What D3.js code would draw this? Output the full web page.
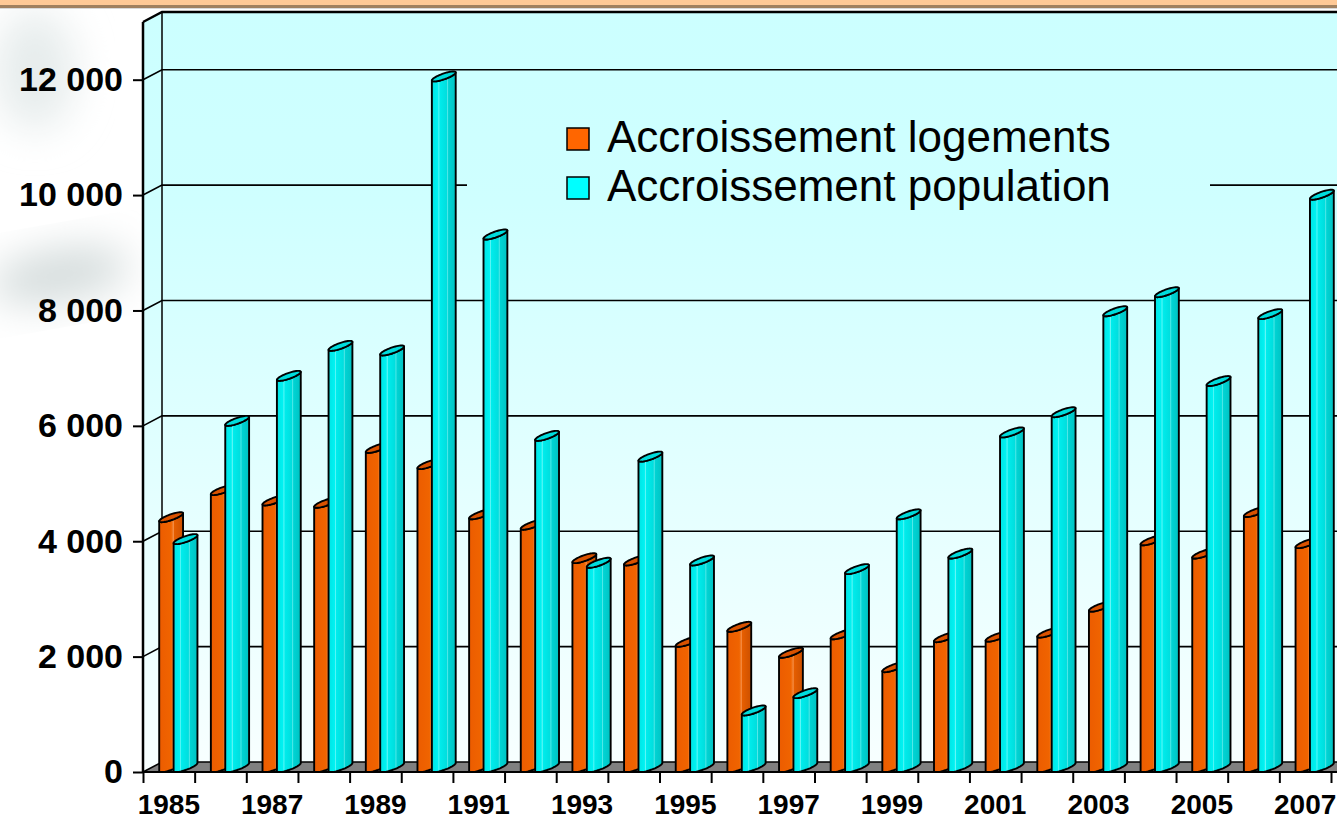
<!DOCTYPE html>
<html>
<head>
<meta charset="utf-8">
<script src="https://cdn.jsdelivr.net/npm/d3@7"></script>
<style>
  body { margin: 0; background: #fff; }
  svg { display: block; font-family: "Liberation Sans", Arial, sans-serif; }
</style>
</head>
<body>
<svg id="chart" width="1337" height="817"></svg>
<script>
// data
const years = [1985, 1986, 1987, 1988, 1989, 1990, 1991, 1992, 1993, 1994, 1995, 1996,
               1997, 1998, 1999, 2000, 2001, 2002, 2003, 2004, 2005, 2006, 2007];
const logements = [4330, 4800, 4620, 4580, 5530, 5250, 4380, 4200, 3620, 3580, 2170, 2430,
                   1980, 2300, 1730, 2250, 2260, 2330, 2780, 3930, 3700, 4420, 3880];
const population = [3950, 6000, 6780, 7300, 7220, 11970, 9230, 5740, 3540, 5380, 3580, 980,
                    1280, 3430, 4380, 3700, 5800, 6150, 7900, 8230, 6690, 7850, 9920];
const yTickValues = [0, 2000, 4000, 6000, 8000, 10000, 12000];
const labelYears = [1985, 1987, 1989, 1991, 1993, 1995, 1997, 1999, 2001, 2003, 2005, 2007];
const seriesNames = ["Accroissement logements", "Accroissement population"];

const svg = d3.select("#chart");
const W = 1337;
const pLeft = 143, pRight = 1331, pBase = 772, pTop = 22;
const dx = 19, dy = 10;   // depth offset of the back wall

const y = d3.scaleLinear().domain([0, 13000]).range([pBase, pTop]);
const x = d3.scaleBand().domain(years).range([pLeft, pRight]).padding(0);
const fmt = d3.formatLocale({ thousands: " ", grouping: [3], decimal: "," }).format(",d");

const defs = svg.append("defs");

const wallGrad = defs.append("linearGradient")
    .attr("id", "wall").attr("gradientUnits", "userSpaceOnUse")
    .attr("x1", 0).attr("x2", 0).attr("y1", pTop - dy).attr("y2", pBase);
wallGrad.append("stop").attr("offset", 0).attr("stop-color", "#ccffff");
wallGrad.append("stop").attr("offset", 0.25).attr("stop-color", "#cfffff");
wallGrad.append("stop").attr("offset", 1).attr("stop-color", "#f8ffff");

function bodyGrad(id, stops) {
    const g = defs.append("linearGradient").attr("id", id)
        .attr("x1", 0).attr("x2", 1).attr("y1", 0).attr("y2", 0);
    stops.forEach(s => g.append("stop").attr("offset", s[0]).attr("stop-color", s[1]));
}
bodyGrad("orangeBody", [[0, "#ec5c00"], [0.5, "#f06400"], [0.6, "#f48a40"], [0.63, "#e65e00"], [1, "#cc5000"]]);
bodyGrad("cyanBody", [[0, "#00e4e4"], [0.25, "#00f2f2"], [0.3, "#66f6f6"], [0.33, "#00ecec"],
                      [0.62, "#00dede"], [0.66, "#55e8e8"], [0.7, "#00d4d4"], [1, "#00c2c2"]]);

const blur = defs.append("filter").attr("id", "blur")
    .attr("x", "-50%").attr("y", "-50%").attr("width", "200%").attr("height", "200%");
blur.append("feGaussianBlur").attr("stdDeviation", 20);

// page decoration
svg.append("rect").attr("width", W).attr("height", 817).attr("fill", "#fff");
svg.append("ellipse").attr("cx", 35).attr("cy", 70).attr("rx", 40).attr("ry", 60)
    .attr("fill", "#e6ecec").attr("filter", "url(#blur)");
svg.append("ellipse").attr("cx", 60).attr("cy", 275).attr("rx", 70).attr("ry", 26)
    .attr("transform", "rotate(-10 60 275)")
    .attr("fill", "#d4dcdc").attr("filter", "url(#blur)");
svg.append("rect").attr("x", 0).attr("y", 0).attr("width", W).attr("height", 5).attr("fill", "#ffc996");
svg.append("rect").attr("x", 0).attr("y", 5).attr("width", W).attr("height", 3).attr("fill", "#a0805f");
svg.append("rect").attr("x", 0).attr("y", 8).attr("width", W).attr("height", 1).attr("fill", "#d8d8d8");

// walls
const wallRight = pRight + dx + 40;
svg.append("rect")
    .attr("x", pLeft + dx).attr("y", y(13000) - dy)
    .attr("width", wallRight - pLeft - dx).attr("height", pBase - y(13000))
    .attr("fill", "url(#wall)");
svg.append("path")
    .attr("d", `M${pLeft},${y(13000)}L${pLeft + dx},${y(13000) - dy}L${pLeft + dx},${pBase - dy}L${pLeft},${pBase}Z`)
    .attr("fill", "url(#wall)");

// gridlines
const grid = svg.append("g").attr("stroke", "#000").attr("stroke-width", 1.6).attr("fill", "none");
grid.selectAll("path").data(yTickValues.filter(d => d > 0)).join("path")
    .attr("d", d => `M${pLeft},${y(d)}L${pLeft + dx},${y(d) - dy}L${wallRight},${y(d) - dy}`);

// legend box hides part of the gridline
svg.append("rect").attr("x", 467).attr("y", 100).attr("width", 743).attr("height", 125)
    .attr("fill", "url(#wall)");

// wall edges
const edges = svg.append("g").attr("stroke", "#000").attr("fill", "none");
edges.append("path").attr("stroke-width", 2.5)
    .attr("d", `M${pLeft},${y(13000)}L${pLeft + dx},${y(13000) - dy}L${wallRight},${y(13000) - dy}`);
edges.append("path").attr("stroke-width", 1.5)
    .attr("d", `M${pLeft + dx},${y(13000) - dy}L${pLeft + dx},${pBase - dy}`);

// floor
svg.append("path")
    .attr("d", `M${pLeft},${pBase}L${pLeft + dx},${pBase - dy}L${wallRight},${pBase - dy}L${wallRight - dx},${pBase}Z`)
    .attr("fill", "#808080").attr("stroke", "#000").attr("stroke-width", 1.5);

// cylinders
const a = 7.2, bx = dx / 2, by = dy / 2;
const t1 = Math.atan2(bx, a);
function pt(cx, yc, t) {
    return [cx + a * Math.cos(t) + bx * Math.sin(t), yc - by * Math.sin(t)];
}
function arc(cx, yc, from, to, n = 24) {
    return d3.range(n + 1).map(i => pt(cx, yc, from + (to - from) * i / n));
}
function bodyPath(cx, yb, yt) {
    const bottom = arc(cx, yb, t1 + Math.PI, t1 + 2 * Math.PI);
    const topArc = arc(cx, yt, t1 + 2 * Math.PI, t1 + Math.PI);
    return d3.line()([...bottom, ...topArc]) + "Z";
}
function capPath(cx, yt) {
    return d3.line()(arc(cx, yt, 0, 2 * Math.PI, 48)) + "Z";
}

const bars = [];
years.forEach((yr, i) => {
    const c = x(yr) + x.bandwidth() / 2 + bx;
    bars.push({ cx: c - a, v: logements[i], body: "url(#orangeBody)", cap: "#d95200" });
    bars.push({ cx: c + a, v: population[i], body: "url(#cyanBody)", cap: "#00dcdc" });
});

const barG = svg.append("g");
bars.forEach(b => {
    const yb = y(0) - by, yt = y(b.v) - by;
    barG.append("path").attr("d", bodyPath(b.cx, yb, yt))
        .attr("fill", b.body).attr("stroke", "#000").attr("stroke-width", 1.9)
        .attr("stroke-linejoin", "round");
    barG.append("path").attr("d", capPath(b.cx, yt))
        .attr("fill", b.cap).attr("stroke", "#000").attr("stroke-width", 1.9);
});

// y axis
const yAxis = svg.append("g").attr("transform", `translate(${pLeft},0)`)
    .call(d3.axisLeft(y).tickValues(yTickValues).tickFormat(fmt).tickSize(10).tickSizeOuter(0).tickPadding(10));
yAxis.select(".domain").attr("stroke-width", 2.5).attr("d", `M0,${y(13000)}V${pBase}`);
yAxis.selectAll(".tick line").attr("stroke-width", 2);
yAxis.selectAll(".tick text").attr("font-size", 34).attr("font-weight", "bold")
    .attr("fill", "#000").attr("font-family", "Liberation Sans, Arial, sans-serif");

// x axis: ticks at category boundaries, labels every other year
const xb = d3.scaleLinear().domain([0, years.length]).range([pLeft, pRight]);
const xAxis = svg.append("g").attr("transform", `translate(0,${pBase})`)
    .call(d3.axisBottom(xb).tickValues(d3.range(years.length + 1)).tickFormat("").tickSize(11).tickSizeOuter(0));
xAxis.select(".domain").remove();
xAxis.selectAll(".tick line").attr("stroke-width", 2);
svg.append("line").attr("x1", pLeft).attr("x2", W).attr("y1", pBase).attr("y2", pBase)
    .attr("stroke", "#000").attr("stroke-width", 2);

svg.append("g").selectAll("text").data(labelYears).join("text")
    .attr("x", d => x(d) + x.bandwidth() / 2)
    .attr("y", 814)
    .attr("text-anchor", "middle")
    .attr("font-size", 28).attr("font-weight", "bold")
    .text(d => d);

// legend
const legend = svg.append("g");
const legendColors = ["#ff6600", "#00ffff"];
seriesNames.forEach((name, i) => {
    const ly = 152 + i * 49;
    legend.append("rect").attr("x", 567).attr("y", ly - 24).attr("width", 22).attr("height", 22)
        .attr("fill", legendColors[i]).attr("stroke", "#000").attr("stroke-width", 1.5);
    legend.append("text").attr("x", 607).attr("y", ly).attr("font-size", 44).text(name);
});
</script>
</body>
</html>
